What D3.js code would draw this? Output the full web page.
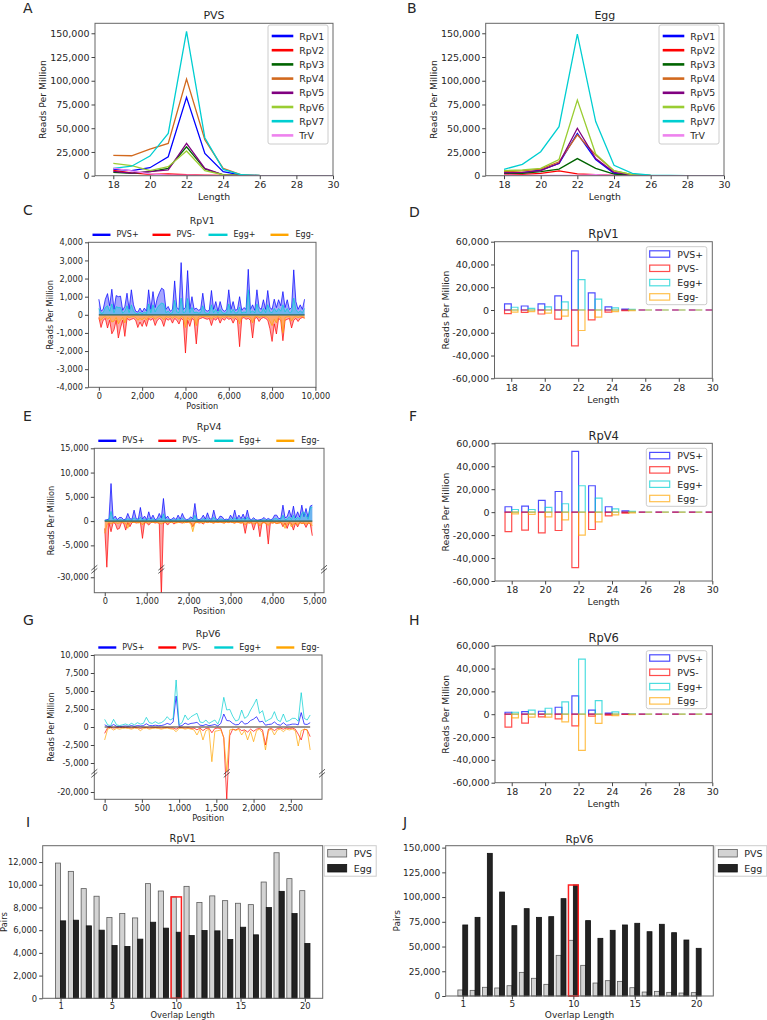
<!DOCTYPE html>
<html>
<head>
<meta charset="utf-8">
<script src="https://cdn.jsdelivr.net/npm/d3@7"></script>
<style>
  body { margin: 0; background: #fff; }
  text { font-family: "DejaVu Sans", sans-serif; fill: #262626; }
</style>
</head>
<body>
<svg id="fig" width="767" height="1020"></svg>
<script>
// ---------- data ----------
var lengths = [18, 19, 20, 21, 22, 23, 24, 25, 26, 27, 28, 29, 30];
var virusNames = ["RpV1", "RpV2", "RpV3", "RpV4", "RpV5", "RpV6", "RpV7", "TrV"];
var virusColors = ["#0000ff", "#ff0000", "#006400", "#d2691e", "#800080", "#9acd32", "#00ced1", "#ee82ee"];

// reads per million by length, PVS (panel A)
var pvsByLength = [
  [7000, 5300, 8400, 20000, 82500, 23500, 4200, 700, 100, 0, 0, 0, 0],
  [5500, 3000, 1500, 2000, 1000, 600, 200, 50, 0, 0, 0, 0, 0],
  [3500, 2500, 4200, 7700, 30500, 7000, 1000, 200, 0, 0, 0, 0, 0],
  [21400, 21000, 28000, 34000, 101800, 38000, 7700, 1000, 200, 0, 0, 0, 0],
  [4500, 2800, 4200, 6000, 34000, 7700, 1000, 200, 0, 0, 0, 0, 0],
  [13000, 10500, 5300, 9500, 26000, 5300, 1000, 200, 0, 0, 0, 0, 0],
  [7700, 10000, 20700, 44600, 152000, 40000, 6700, 1000, 200, 0, 0, 0, 0],
  [8000, 5000, 2000, 500, 500, 300, 100, 0, 0, 0, 0, 0, 0]
];
// reads per million by length, Egg (panel B)
var eggByLength = [
  [3000, 3000, 6000, 13000, 44600, 17000, 2500, 500, 100, 0, 0, 0, 0],
  [1700, 1400, 2500, 5000, 2000, 1000, 300, 100, 0, 0, 0, 0, 0],
  [2500, 2500, 4200, 7000, 18000, 7700, 1700, 300, 0, 0, 0, 0, 0],
  [4200, 5000, 7000, 14700, 43000, 21800, 5000, 1000, 200, 0, 0, 0, 0],
  [3000, 3500, 5300, 13000, 50000, 18000, 3500, 500, 0, 0, 0, 0, 0],
  [5300, 6000, 7700, 17000, 79700, 22800, 5300, 1000, 200, 0, 0, 0, 0],
  [6700, 12000, 25300, 51600, 149000, 57000, 11000, 2500, 700, 200, 0, 0, 0],
  [500, 300, 300, 300, 300, 1000, 300, 100, 0, 0, 0, 0, 0]
];

var strandNames = ["PVS+", "PVS-", "Egg+", "Egg-"];
var strandColors = ["#0000ff", "#ff0000", "#00ced1", "#ffa500"];

// coverage along RpV1 genome, one value every 100 nt (panel C)
var rpv1Step = 100;
var rpv1PvsPlus = [860,200,300,860,1170,500,1410,300,1060,1000, 1030,250,460,1190,300,1380,550,200,150,370,
  150,370,200,1380,300,1280,400,920,1230,1470, 1380,300,460,200,300,1870,400,300,2880,300,
  400,2440,300,1000,300,370,250,300,1190,300, 200,250,1340,300,730,200,730,300,200,300,
  1380,300,730,250,300,1000,250,400,300,2510, 300,550,250,1380,400,300,830,300,1340,400,
  300,860,400,830,500,1280,400,830,300,400, 2480,730,300,550,300,860];
var rpv1PvsMinus = [-150,-700,-300,-200,-730,-300,-1050,-830,-300,-1280, -730,-300,-1190,-200,-300,-250,-200,-300,-700,-400,
  -640,-300,-640,-200,-300,-200,-590,-300,-200,-300, -640,-200,-300,-200,-460,-200,-300,-510,-200,-300,
  -2110,-300,-640,-200,-300,-1610,-250,-200,-150,-200, -250,-200,-590,-200,-300,-150,-460,-200,-300,-150,
  -250,-200,-460,-200,-300,-1760,-200,-150,-250,-200, -300,-1280,-200,-150,-370,-200,-150,-200,-300,-770,
  -1470,-500,-1060,-200,-300,-1430,-300,-250,-200,-730, -300,-200,-370,-200,-150,-180];
var rpv1EggPlus = [350,80,120,400,500,200,600,120,450,400, 400,100,200,500,120,550,220,80,60,150,
  60,150,80,600,120,550,160,400,550,650, 600,120,200,80,120,800,160,120,920,120,
  160,900,120,400,120,150,100,120,500,120, 80,100,550,120,300,80,300,120,80,120,
  600,120,300,100,120,420,100,160,120,1380, 120,220,100,600,160,120,350,120,560,160,
  120,350,160,350,200,550,160,350,120,160, 920,300,120,220,120,350];
var rpv1EggMinus = [-250,-300,-150,-100,-250,-150,-400,-350,-150,-500, -300,-150,-450,-100,-150,-120,-100,-150,-300,-200,
  -280,-150,-300,-100,-150,-100,-250,-150,-100,-150, -280,-100,-150,-100,-200,-100,-150,-250,-100,-150,
  -700,-150,-300,-100,-150,-600,-120,-100,-80,-100, -120,-100,-250,-100,-150,-80,-200,-100,-150,-80,
  -120,-100,-200,-100,-150,-500,-100,-80,-120,-100, -150,-450,-100,-80,-160,-100,-80,-100,-150,-350,
  -600,-250,-450,-100,-150,-1000,-150,-120,-100,-350, -150,-100,-160,-100,-80,-200];

// coverage along RpV4 genome, one value every 50 nt (panel E)
var rpv4Step = 50;
var rpv4PvsPlus = [200,300,400,7740,500,1030,300,750,750,300, 400,1580,500,400,2260,500,400,2810,400,1030,
  300,1920,400,1230,300,500,1580,600,4660,500, 1030,300,400,750,300,1230,400,1580,600,300,
  400,890,500,3630,400,300,500,1230,400,1710, 500,400,2260,500,300,1030,890,300,400,300,
  1230,500,2260,400,1230,500,1440,400,2260,500, 300,690,300,200,300,400,750,300,550,300,
  400,1230,1230,500,600,3290,700,900,2260,800, 3080,700,1920,800,3290,900,2600,800,3080,3290];
var rpv4PvsMinus = [-1500,-9500,-400,-2190,-300,-500,-1710,-1510,-300,-400, -1850,-300,-1160,-300,-200,-400,-300,-200,-3560,-300,
  -400,-820,-300,-200,-400,-300,-500,-34000,-400,-300, -820,-300,-200,-600,-300,-200,-300,-400,-200,-300,
  -200,-300,-1160,-300,-200,-400,-300,-600,-200,-300, -200,-300,-400,-200,-300,-200,-300,-400,-200,-300,
  -200,-300,-400,-200,-300,-400,-300,-2530,-300,-400, -300,-1850,-400,-300,-3220,-400,-300,-500,-4730,-300,
  -400,-300,-500,-400,-300,-1160,-400,-1510,-300,-500, -1850,-400,-1200,-300,-500,-400,-1300,-400,-500,-3010];
var rpv4EggPlus = [100,150,200,2000,300,400,150,300,300,150, 200,500,250,200,700,250,200,800,200,400,
  150,600,200,500,150,200,600,250,1500,200, 400,150,200,300,150,500,200,600,250,150,
  200,400,200,1200,200,150,200,500,200,600, 200,200,800,200,150,400,350,150,200,150,
  500,200,700,200,500,200,600,200,800,200, 150,300,150,100,150,200,300,150,250,150,
  200,500,500,200,300,1200,300,400,900,300, 1200,300,800,400,1600,1900,1200,400,2800,2900];
var rpv4EggMinus = [-2500,-800,-200,-600,-300,-200,-500,-400,-200,-300, -500,-1500,-300,-200,-300,-200,-400,-300,-800,-200,
  -300,-400,-200,-300,-200,-300,-400,-600,-300,-200, -300,-200,-300,-200,-400,-300,-200,-300,-400,-200,
  -300,-500,-2190,-400,-300,-200,-300,-400,-200,-300, -200,-300,-400,-200,-300,-200,-300,-400,-200,-300,
  -200,-300,-400,-200,-300,-400,-300,-800,-300,-400, -300,-600,-400,-300,-1000,-400,-300,-500,-900,-300,
  -400,-300,-500,-400,-300,-600,-1500,-500,-300,-1200, -600,-400,-800,-300,-500,-400,-600,-400,-500,-1000];

// coverage along RpV6 genome, one value every 40 nt (panel G)
var rpv6Step = 40;
var rpv6PvsPlus = [300,100,80,350,100,80,100,150,100,200, 100,200,150,180,450,200,180,250,180,200,
  300,500,350,700,4300,100,200,550,350,500, 550,650,250,200,350,180,250,350,150,500,
  1800,900,850,500,300,350,850,400,500,900, 1100,1430,700,800,250,350,400,700,350,250,
  600,250,300,400,400,300,2000,400,350,600];
var rpv6PvsMinus = [-880,-100,-50,-150,-80,-100,-50,-80,-100,-150, -80,-100,-200,-100,-80,-150,-100,-80,-100,-150,
  -100,-80,-150,-150,-300,-80,-100,-150,-100,-200, -150,-400,-150,-500,-200,-150,-800,-200,-150,-200,
  -1500,-21000,-1200,-300,-400,-200,-500,-400,-700,-300, -600,-300,-200,-400,-2500,-300,-200,-500,-200,-150,
  -300,-150,-200,-150,-300,-1000,-1800,-300,-400,-1340];
var rpv6EggPlus = [1060,300,200,1060,300,200,300,420,250,510, 300,600,400,500,1340,600,500,740,500,600,
  880,1430,970,1200,6530,300,600,1670,1000,1430, 1670,1900,700,600,970,500,740,970,400,1500,
  4120,2360,2450,1500,830,1000,2360,1200,1500,2360, 3060,3890,1900,2270,740,1000,1200,2130,1000,740,
  1800,740,900,1200,1200,800,4770,1200,970,1670];
var rpv6EggMinus = [-1800,-300,-150,-420,-200,-300,-200,-150,-200,-300, -150,-200,-510,-200,-150,-300,-200,-150,-200,-300,
  -200,-150,-250,-300,-650,-200,-150,-300,-200,-300, -400,-1110,-300,-1800,-500,-300,-4820,-600,-510,-400,
  -1500,-6200,-400,-300,-500,-300,-1110,-500,-1800,-600, -2040,-500,-300,-800,-3190,-500,-300,-1110,-400,-300,
  -650,-300,-400,-300,-500,-2640,-500,-300,-400,-3190];

// strand-split length distributions (panels D, F, H)
var lenRpV1PvsPlus = [5300, 3500, 5300, 12400, 52000, 15000, 2700, 900, 0, 0, 0, 0, 0];
var lenRpV1PvsMinus = [-3200, -2000, -3500, -8000, -31600, -8600, -1800, -600, 0, 0, 0, 0, 0];
var lenRpV1EggPlus = [2400, 1500, 2700, 7100, 26600, 9500, 1800, 600, 0, 0, 0, 0, 0];
var lenRpV1EggMinus = [-1800, -1500, -2700, -5300, -18000, -6200, -1500, -600, 0, 0, 0, 0, 0];

var lenRpV4PvsPlus = [4700, 5200, 10200, 18000, 53000, 23000, 4700, 1200, 0, 0, 0, 0, 0];
var lenRpV4PvsMinus = [-16900, -15700, -18000, -16000, -48300, -15100, -3200, -900, 0, 0, 0, 0, 0];
var lenRpV4EggPlus = [2300, 2300, 4100, 7300, 23000, 12200, 2900, 600, 0, 0, 0, 0, 0];
var lenRpV4EggMinus = [-1500, -2000, -4100, -6700, -20100, -8400, -2300, -600, 0, 0, 0, 0, 0];

var lenRpV6PvsPlus = [1700, 2300, 2600, 6100, 16000, 3500, 900, 300, 0, 0, 0, 0, 0];
var lenRpV6PvsMinus = [-11400, -7900, -2300, -4100, -10200, -1700, -900, -100, 0, 0, 0, 0, 0];
var lenRpV6EggPlus = [1700, 3500, 5200, 10800, 48300, 11900, 2000, 300, 0, 0, 0, 0, 0];
var lenRpV6EggMinus = [-3200, -2600, -2600, -6700, -31700, -8100, -1200, -300, 0, 0, 0, 0, 0];

// overlap pairs (panels I, J)
var overlapLengths = [1,2,3,4,5,6,7,8,9,10,11,12,13,14,15,16,17,18,19,20];
var rpv1PvsPairs = [11910,11180,9660,8990,7110,7460,7080,10100,9450,8930,9860,8430,9020,8600,8370,8250,10240,12820,10540,9480];
var rpv1EggPairs = [6820,6880,6380,6000,4650,4570,5210,6700,6180,5820,5530,5970,5940,5180,6260,5590,7990,9420,7460,4830];
var rpv6PvsPairs = [6100,5700,8800,8100,10400,23900,17900,11800,41100,56300,31000,13100,15500,14800,8400,4000,4700,3700,3000,3400];
var rpv6EggPairs = [71800,79500,144200,105100,71100,88300,79500,80200,98400,112200,76200,58300,66400,71800,73500,65000,72500,64000,56600,48200];

// ---------- helpers ----------
var svg = d3.select("#fig");
var defs = svg.append("defs");
var clipCount = 0;
var fmt = function (d) { return d3.format(",")(d).replace("\u2212", "-"); };

function clipFor(p) {
  var id = "clip" + clipCount++;
  defs.append("clipPath").attr("id", id).append("rect")
    .attr("x", p.x0).attr("y", p.y0).attr("width", p.x1 - p.x0).attr("height", p.y1 - p.y0);
  return "url(#" + id + ")";
}

function frame(p) {
  svg.append("rect").attr("x", p.x0).attr("y", p.y0)
    .attr("width", p.x1 - p.x0).attr("height", p.y1 - p.y0)
    .attr("fill", "none").attr("stroke", "#666").attr("stroke-width", 1);
}

function styleAxis(g, fs) {
  g.select(".domain").remove();
  g.selectAll(".tick line").attr("stroke", "#444");
  g.selectAll(".tick text").attr("font-size", fs).attr("fill", "#262626")
    .attr("font-family", "DejaVu Sans");
}

function axes(p, x, y, xt, yt, fs, pad) {
  var gx = svg.append("g").attr("transform", "translate(0," + p.y1 + ")")
    .call(d3.axisBottom(x).tickValues(xt).tickFormat(fmt).tickSize(3.5).tickPadding(pad == null ? 2 : pad));
  styleAxis(gx, fs);
  var gy = svg.append("g").attr("transform", "translate(" + p.x0 + ",0)")
    .call(d3.axisLeft(y).tickValues(yt).tickFormat(fmt).tickSize(3.5).tickPadding(2));
  styleAxis(gy, fs);
}

function text(t, x, y, fs, anchor) {
  return svg.append("text").attr("x", x).attr("y", y).attr("font-size", fs)
    .attr("text-anchor", anchor || "middle").attr("dominant-baseline", "central").text(t);
}

function vtext(t, x, y, fs) {
  svg.append("text").attr("transform", "translate(" + x + "," + y + ") rotate(-90)")
    .attr("font-size", fs).attr("text-anchor", "middle").attr("dominant-baseline", "central").text(t);
}

function panelLetter(t, x, y) {
  svg.append("text").attr("x", x).attr("y", y).attr("font-size", 14)
    .attr("font-family", "Liberation Sans, Arial, sans-serif")
    .attr("dominant-baseline", "central").text(t);
}

// ---------- A / B: length profiles ----------
function lengthPanel(p, data, title) {
  var x = d3.scaleLinear().domain([17, 30]).range([p.x0, p.x1]);
  var y = d3.scaleLinear().domain([0, 160500]).range([p.y1, p.y0]);
  var line = d3.line().x(function (d, i) { return x(lengths[i]); }).y(function (d) { return y(d); });
  var g = svg.append("g").attr("clip-path", clipFor(p));
  data.forEach(function (s, k) {
    g.append("path").attr("d", line(s)).attr("fill", "none")
      .attr("stroke", virusColors[k]).attr("stroke-width", 1.3);
  });
  frame(p);
  axes(p, x, y, [18, 20, 22, 24, 26, 28, 30], [0, 25000, 50000, 75000, 100000, 125000, 150000], 9.5);
  text(title, (p.x0 + p.x1) / 2, p.y0 - 8, 11);
  text("Length", (p.x0 + p.x1) / 2, p.y1 + 20.5, 9.3);
  vtext("Reads Per Million", p.ylab, (p.y0 + p.y1) / 2, 9.3);

  var lg = svg.append("g");
  lg.append("rect").attr("x", p.x1 - 65).attr("y", p.y0 + 1.7).attr("width", 60).attr("height", 119)
    .attr("rx", 2).attr("fill", "#fff").attr("fill-opacity", 0.8).attr("stroke", "#ccc");
  virusNames.forEach(function (n, k) {
    var yy = p.y0 + 12.7 + k * 14.2;
    lg.append("line").attr("x1", p.x1 - 61.3).attr("x2", p.x1 - 39.7).attr("y1", yy).attr("y2", yy)
      .attr("stroke", virusColors[k]).attr("stroke-width", 2.6);
    lg.append("text").attr("x", p.x1 - 33.7).attr("y", yy).attr("font-size", 9.4)
      .attr("dominant-baseline", "central").text(n);
  });
}

// ---------- C / E / G: coverage ----------
function coveragePanel(p, series, step, title) {
  var x = d3.scaleLinear().domain(p.xDomain).range([p.x0, p.x1]);
  var y = d3.scaleLinear().domain(p.yDomain).range(p.yRange);
  var line = d3.line().x(function (d, i) { return x(i * step); }).y(function (d) { return y(d); });
  var area = d3.area().x(function (d, i) { return x(i * step); }).y0(y(0)).y1(function (d) { return y(d); });
  var g = svg.append("g").attr("clip-path", clipFor(p));
  var n = series[0].length;
  series.forEach(function (s, k) {
    if (p.fill) {
      g.append("path").attr("d", area(s)).attr("fill", strandColors[k]).attr("fill-opacity", 0.35);
    }
    g.append("path").attr("d", line(s)).attr("fill", "none")
      .attr("stroke", strandColors[k]).attr("stroke-opacity", 0.7).attr("stroke-width", 1);
  });
  g.append("line").attr("x1", x(0)).attr("x2", x((n - 1) * step)).attr("y1", y(0)).attr("y2", y(0))
    .attr("stroke", p.baseColor).attr("stroke-width", 1.2);
  frame(p);
  axes(p, x, y, p.xTicks, p.yTicks, 8.2);

  if (p.breakY) {
    // break marks on both spines and on the deepest spike
    var minIdx = d3.minIndex(series[1]);
    [p.x0, x(minIdx * step), p.x1].forEach(function (bx) {
      [-1.6, 1.6].forEach(function (o) {
        svg.append("line").attr("x1", bx - 3).attr("x2", bx + 3)
          .attr("y1", p.breakY + o + 2.5).attr("y2", p.breakY + o - 2.5)
          .attr("stroke", "#333").attr("stroke-width", 0.8);
      });
    });
  }

  text(title, (p.x0 + p.x1) / 2, p.y0 - 22, 9.4);
  text("Position", (p.x0 + p.x1) / 2, p.y1 + 18.5, 8.2);
  vtext("Reads Per Million", p.ylab, (p.y0 + p.y1) / 2, 8.2);

  var lx = [[4, 22, 28], [64, 82, 88], [120, 139, 145], [182, 200, 207]];
  strandNames.forEach(function (nm, k) {
    var yy = p.y0 - 7.5;
    svg.append("line").attr("x1", p.x0 + lx[k][0]).attr("x2", p.x0 + lx[k][1])
      .attr("y1", yy).attr("y2", yy).attr("stroke", strandColors[k]).attr("stroke-width", 2.4);
    text(nm, p.x0 + lx[k][2], yy, 8, "start");
  });
}

// ---------- D / F / H: strand bars ----------
function strandPanel(p, series, title) {
  var x = d3.scaleLinear().domain([17, 30]).range([p.x0, p.x1]);
  var y = d3.scaleLinear().domain([-60000, 60000]).range([p.y1, p.y0]);
  var offsets = [-0.4, -0.4, 0, 0];
  var g = svg.append("g").attr("clip-path", clipFor(p));
  series.forEach(function (s, k) {
    g.selectAll(null).data(s).enter().append("path")
      .attr("d", function (d, i) {
        var a = x(lengths[i] + offsets[k]), b = x(lengths[i] + offsets[k] + 0.4);
        return "M" + a + "," + y(0) + "L" + a + "," + y(d) + "L" + b + "," + y(d) + "L" + b + "," + y(0) + "Z";
      })
      .attr("fill", "none").attr("stroke", strandColors[k])
      .attr("stroke-opacity", 0.7).attr("stroke-width", 1.2);
  });
  frame(p);
  axes(p, x, y, [18, 20, 22, 24, 26, 28, 30], [-60000, -40000, -20000, 0, 20000, 40000, 60000], 9.5);
  text(title, (p.x0 + p.x1) / 2, p.y0 - 7.5, 11.5);
  text("Length", (p.x0 + p.x1) / 2, p.y1 + 20.8, 9.3);
  vtext("Reads Per Million", p.x0 - 49.5, (p.y0 + p.y1) / 2, 9.3);

  svg.append("rect").attr("x", p.x1 - 66).attr("y", p.y0 + 5).attr("width", 60.5).attr("height", 58)
    .attr("rx", 2).attr("fill", "#fff").attr("fill-opacity", 0.8).attr("stroke", "#ccc");
  strandNames.forEach(function (nm, k) {
    var yy = p.y0 + 12.3 + k * 14.3;
    svg.append("rect").attr("x", p.x1 - 62.6).attr("y", yy - 3.2).attr("width", 20).attr("height", 6.4)
      .attr("fill", "none").attr("stroke", strandColors[k]).attr("stroke-opacity", 0.7).attr("stroke-width", 1.2);
    text(nm, p.x1 - 35, yy, 9.4, "start");
  });
}

// ---------- I / J: overlap pairs ----------
function overlapPanel(p, pvs, egg, yMax, yTicks, title, fs) {
  var x = d3.scaleLinear().domain([-0.39, 21.39]).range([p.x0, p.x1]);
  var y = d3.scaleLinear().domain([0, yMax]).range([p.y1, p.y0]);
  svg.selectAll(null).data(pvs).enter().append("rect")
    .attr("x", function (d, i) { return x(overlapLengths[i] - 0.4); })
    .attr("width", x(0.4) - x(0)).attr("y", function (d) { return y(d); })
    .attr("height", function (d) { return y(0) - y(d); })
    .attr("fill", "#d3d3d3").attr("stroke", "#5a5a5a").attr("stroke-width", 0.8);
  svg.selectAll(null).data(egg).enter().append("rect")
    .attr("x", function (d, i) { return x(overlapLengths[i]); })
    .attr("width", x(0.4) - x(0)).attr("y", function (d) { return y(d); })
    .attr("height", function (d) { return y(0) - y(d); })
    .attr("fill", "#232323").attr("stroke", "#111").attr("stroke-width", 0.8);
  // highlight the 10-nt overlap
  var k = overlapLengths.indexOf(10);
  var top = Math.max(pvs[k], egg[k]);
  svg.append("rect").attr("x", x(9.6)).attr("width", x(10.4) - x(9.6))
    .attr("y", y(top)).attr("height", y(0) - y(top))
    .attr("fill", "none").attr("stroke", "#ff2020").attr("stroke-width", 1.5);
  frame(p);
  axes(p, x, y, [1, 5, 10, 15, 20], yTicks, fs, 1);
  text(title, (p.x0 + p.x1) / 2, p.y0 - 7, fs + 1.5);
  text("Overlap Length", (p.x0 + p.x1) / 2, p.xlabY, fs);
  vtext("Pairs", p.ylab, (p.y0 + p.y1) / 2, fs);

  svg.append("rect").attr("x", p.x1 + 1.5).attr("y", p.y0).attr("width", 52).attr("height", 30.5)
    .attr("fill", "#fff").attr("stroke", "#ccc");
  [["PVS", "#d3d3d3", "#5a5a5a"], ["Egg", "#232323", "#111"]].forEach(function (e, j) {
    var yy = p.y0 + 7.5 + j * 15;
    svg.append("rect").attr("x", p.x1 + 5).attr("y", yy - 3.8).attr("width", 19).attr("height", 7.6)
      .attr("fill", e[1]).attr("stroke", e[2]).attr("stroke-width", 0.8);
    text(e[0], p.x1 + 31, yy, 9.5, "start");
  });
}

// ---------- draw ----------
panelLetter("A", 23, 8);
lengthPanel({ x0: 95, x1: 333, y0: 23.3, y1: 175.7, ylab: 42 }, pvsByLength, "PVS");
panelLetter("B", 407, 8);
lengthPanel({ x0: 485.7, x1: 724, y0: 23.3, y1: 175.7, ylab: 433 }, eggByLength, "Egg");

panelLetter("C", 23, 210);
coveragePanel({ x0: 88.5, x1: 316, y0: 242.3, y1: 387.3, ylab: 50, fill: true, baseColor: "#1f6a6a",
  xDomain: [-478, 10028], yDomain: [-4000, 4000], yRange: [387.3, 242.3],
  xTicks: [0, 2000, 4000, 6000, 8000, 10000],
  yTicks: [-4000, -3000, -2000, -1000, 0, 1000, 2000, 3000, 4000] },
  [rpv1PvsPlus, rpv1PvsMinus, rpv1EggPlus, rpv1EggMinus], rpv1Step, "RpV1");

panelLetter("D", 409, 212);
strandPanel({ x0: 494.5, x1: 712.3, y0: 241.7, y1: 378.3 },
  [lenRpV1PvsPlus, lenRpV1PvsMinus, lenRpV1EggPlus, lenRpV1EggMinus], "RpV1");

panelLetter("E", 23, 416);
coveragePanel({ x0: 94.3, x1: 324, y0: 448.3, y1: 592.7, ylab: 51, breakY: 569.3, fill: true, baseColor: "#2f5f4f",
  xDomain: [-249, 5229], yDomain: [-33200, -28350, -9930, 15000], yRange: [592.7, 569.3, 569.3, 448.3],
  xTicks: [0, 1000, 2000, 3000, 4000, 5000],
  yTicks: [-30000, -5000, 0, 5000, 10000, 15000] },
  [rpv4PvsPlus, rpv4PvsMinus, rpv4EggPlus, rpv4EggMinus], rpv4Step, "RpV4");

panelLetter("F", 409, 416);
strandPanel({ x0: 495, x1: 712.3, y0: 443.3, y1: 581 },
  [lenRpV4PvsPlus, lenRpV4PvsMinus, lenRpV4EggPlus, lenRpV4EggMinus], "RpV4");

panelLetter("G", 23, 620);
coveragePanel({ x0: 94.3, x1: 322, y0: 655, y1: 799.3, ylab: 51, breakY: 773.3, fill: false, baseColor: "#3b2f1f",
  xDomain: [-139, 2919], yDomain: [-21014, -17400, -6430, 10000], yRange: [799.3, 773.3, 773.3, 655],
  xTicks: [0, 500, 1000, 1500, 2000, 2500],
  yTicks: [-20000, -5000, -2500, 0, 2500, 5000, 7500, 10000] },
  [rpv6PvsPlus, rpv6PvsMinus, rpv6EggPlus, rpv6EggMinus], rpv6Step, "RpV6");

panelLetter("H", 409, 620);
strandPanel({ x0: 495, x1: 712.3, y0: 645.7, y1: 782.7 },
  [lenRpV6PvsPlus, lenRpV6PvsMinus, lenRpV6EggPlus, lenRpV6EggMinus], "RpV6");

panelLetter("I", 26, 822);
overlapPanel({ x0: 42.7, x1: 322.7, y0: 845.7, y1: 998.3, ylab: 4, xlabY: 1015 },
  rpv1PvsPairs, rpv1EggPairs, 13440, [0, 2000, 4000, 6000, 8000, 10000, 12000], "RpV1", 8.4);

panelLetter("J", 403, 822);
overlapPanel({ x0: 445.7, x1: 713.3, y0: 845.7, y1: 996, ylab: 397, xlabY: 1014.5 },
  rpv6PvsPairs, rpv6EggPairs, 151935, [0, 25000, 50000, 75000, 100000, 125000, 150000], "RpV6", 9);
</script>
</body>
</html>
